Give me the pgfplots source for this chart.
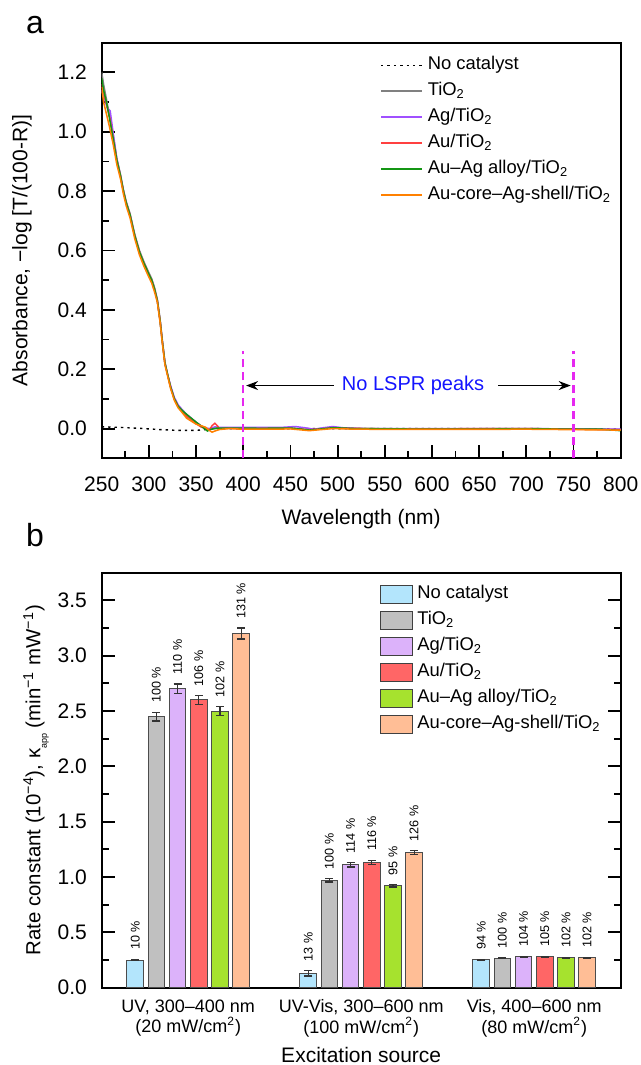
\documentclass[border=0pt]{standalone}
\usepackage{fontspec}
\setmainfont{Liberation Sans}
\usepackage{pgfplots}
\usepackage{pgfplotstable}
\pgfplotsset{compat=1.18}
\usetikzlibrary{arrows.meta}

\definecolor{cNoCat}{RGB}{179,229,252}
\definecolor{cTiO}{RGB}{192,192,192}
\definecolor{cAg}{RGB}{220,178,250}
\definecolor{cAu}{RGB}{255,102,102}
\definecolor{cAlloy}{RGB}{166,226,46}
\definecolor{cCore}{RGB}{255,190,150}
\definecolor{lTiO}{RGB}{128,128,128}
\definecolor{lAg}{RGB}{160,80,255}
\definecolor{lAu}{RGB}{255,64,64}
\definecolor{lAlloy}{RGB}{20,150,20}
\definecolor{lCore}{RGB}{255,128,0}
\definecolor{cMag}{RGB}{230,40,240}
\definecolor{cBlue}{RGB}{20,20,255}

\newcommand\tfont{\fontsize{9.2}{11}\selectfont}
\newcommand\kfont{\fontsize{10.5}{12.5}\selectfont}

\pgfplotstableread{
x y e p
0 0.250 0.005 10
1 0.130 0.025 13
2 0.252 0.003 94
}\tNoCat
\pgfplotstableread{
x y e p
0 2.450 0.040 100
1 0.970 0.015 100
2 0.268 0.003 100
}\tTiO
\pgfplotstableread{
x y e p
0 2.700 0.045 110
1 1.110 0.020 114
2 0.281 0.003 104
}\tAg
\pgfplotstableread{
x y e p
0 2.600 0.040 106
1 1.130 0.020 116
2 0.281 0.003 105
}\tAu
\pgfplotstableread{
x y e p
0 2.500 0.040 102
1 0.920 0.010 95
2 0.271 0.003 102
}\tAlloy
\pgfplotstableread{
x y e p
0 3.200 0.050 131
1 1.220 0.018 126
2 0.271 0.003 102
}\tCore

\pgfplotsset{
  bleg/.style={legend image code/.code={\draw[##1, draw=black!75, line width=0.5pt] (0pt,-4.5pt) rectangle (16pt,4.5pt);}},
  lleg/.style={legend image code/.code={\draw[##1] (0pt,0pt) -- (20.5pt,0pt);}},
}

\begin{document}
\begin{tikzpicture}
\useasboundingbox (-50.85pt,-38.65pt) rectangle (269.65pt,493.85pt);

\node[font=\fontsize{16}{18}\selectfont] at (-33.35pt,481.5pt) {a};
\node[font=\fontsize{16}{18}\selectfont] at (-33.35pt,226.35pt) {b};

% ---- panel a: absorbance spectra
\begin{axis}[
  at={(0pt,264.7pt)}, anchor=south west,
  scale only axis, width=259.5pt, height=207.8pt,
  xmin=250, xmax=800, ymin=-0.1, ymax=1.3,
  xtick={250,300,350,400,450,500,550,600,650,700,750,800},
  minor x tick num=1,
  ytick={0,0.2,0.4,0.6,0.8,1.0,1.2},
  minor y tick num=1,
  tick pos=left, tick align=inside,
  major tick length=6.5pt, minor tick length=3.5pt,
  axis line style={line width=0.9pt},
  tick style={line width=0.9pt, black},
  /pgf/number format/assume math mode=true,
  ticklabel style={font=\kfont},
  xticklabel style={yshift=-5.6pt},
  yticklabel style={xshift=-3.9pt, /pgf/number format/.cd, fixed, fixed zerofill, precision=1},
  xlabel={Wavelength (nm)},
  ylabel={Absorbance, −log [T/(100-R)]},
  label style={font=\kfont},
  xlabel style={at={(axis description cs:0.5,-0.147)}, anchor=center},
  ylabel style={at={(axis description cs:-0.1536,0.5)}, anchor=center},
  legend style={at={(axis description cs:0.536,0.978)}, anchor=north west,
    draw=none, fill=none, inner sep=0pt, font=\tfont,
    nodes={inner ysep=2pt, inner xsep=2.5pt, text height=6.8pt, text depth=2.2pt}},
  legend cell align=left,
]
\addplot[lleg, black, line width=0.7pt, dash pattern=on 1.2pt off 2pt] coordinates {
 (250,0.006) (270,0.004) (290,0.001) (310,-0.003) (330,-0.006) (350,-0.006)
 (360,-0.003) (375,0.0) (400,0.0) (500,0.0) (600,0.0) (700,0.0) (800,-0.002)};
\addlegendentry{No catalyst}
\addplot[lleg, lTiO, line width=0.75pt] coordinates {
 (250,1.20) (252,1.16) (255,1.11) (258,1.06) (262,0.99) (266,0.91) (270,0.855)
 (273,0.805) (276,0.765) (280,0.725) (285,0.655) (290,0.60) (295,0.56) (300,0.525)
 (303,0.505) (306,0.475) (309,0.435) (312,0.365) (314,0.305) (317,0.225) (320,0.18)
 (323,0.14) (327,0.10) (331,0.075) (335,0.06) (340,0.042) (345,0.03) (350,0.018)
 (355,0.008) (360,0.001) (363,-0.004) (366,-0.002) (370,0.0) (380,0.002) (400,0.001)
 (430,0.001) (450,0.002) (470,-0.004) (495,0.002) (520,0.0) (600,-0.001) (700,0.0)
 (800,-0.003)};
\addlegendentry{TiO\textsubscript{2}}
\addplot[lleg, lAg, line width=0.75pt] coordinates {
 (250,1.14) (253,1.11) (256,1.08) (259,1.07) (262,1.00) (266,0.91) (270,0.85)
 (273,0.80) (276,0.76) (280,0.72) (285,0.65) (290,0.595) (295,0.555) (300,0.52)
 (303,0.50) (306,0.47) (309,0.43) (312,0.36) (314,0.30) (317,0.22) (320,0.18)
 (323,0.145) (327,0.105) (331,0.08) (335,0.065) (340,0.048) (345,0.035) (350,0.022)
 (355,0.01) (360,0.002) (365,0.0) (370,0.006) (375,0.004) (390,0.004) (420,0.004)
 (440,0.004) (455,0.007) (465,0.003) (475,-0.002) (485,0.003) (495,0.007) (505,0.003)
 (530,0.0) (600,0.0) (700,0.0) (800,-0.002)};
\addlegendentry{Ag/TiO\textsubscript{2}}
\addplot[lleg, lAu, line width=0.75pt] coordinates {
 (250,1.16) (253,1.12) (256,1.08) (259,1.04) (262,0.98) (266,0.905) (270,0.85)
 (273,0.80) (276,0.76) (280,0.72) (285,0.65) (290,0.595) (295,0.555) (300,0.52)
 (303,0.50) (306,0.47) (309,0.43) (312,0.36) (314,0.30) (317,0.22) (320,0.18)
 (323,0.14) (327,0.10) (331,0.075) (335,0.06) (340,0.042) (345,0.03) (350,0.017)
 (355,0.006) (360,0.0) (364,-0.005) (367,0.01) (370,0.018) (373,0.008) (375,-0.002)
 (380,0.001) (400,0.0) (450,0.001) (470,-0.004) (495,0.002) (550,-0.001) (700,0.0)
 (800,-0.004)};
\addlegendentry{Au/TiO\textsubscript{2}}
\addplot[lleg, lAlloy, line width=0.75pt] coordinates {
 (250,1.18) (252,1.14) (255,1.10) (258,1.05) (262,0.98) (266,0.905) (270,0.85)
 (273,0.80) (276,0.76) (280,0.72) (285,0.65) (290,0.595) (295,0.555) (300,0.52)
 (303,0.50) (306,0.47) (309,0.43) (312,0.36) (314,0.30) (317,0.22) (320,0.18)
 (323,0.14) (327,0.10) (331,0.075) (335,0.062) (340,0.048) (345,0.035) (350,0.022)
 (355,0.01) (360,-0.003) (362,-0.008) (366,-0.002) (372,0.002) (390,0.002) (420,0.001)
 (450,0.002) (470,-0.005) (480,-0.002) (495,0.003) (520,0.0) (600,-0.002) (700,-0.001)
 (780,-0.002) (800,-0.007)};
\addlegendentry{Au–Ag alloy/TiO\textsubscript{2}}
\addplot[lleg, lCore, line width=0.75pt] coordinates {
 (250,1.15) (252,1.10) (255,1.06) (258,1.02) (262,0.96) (266,0.89) (270,0.84)
 (273,0.79) (276,0.75) (280,0.71) (285,0.64) (290,0.585) (295,0.545) (300,0.51)
 (303,0.49) (306,0.46) (309,0.425) (312,0.355) (314,0.295) (317,0.215) (320,0.175)
 (323,0.135) (327,0.095) (331,0.07) (335,0.055) (340,0.035) (345,0.025) (350,0.015)
 (355,0.01) (360,0.005) (364,-0.006) (367,-0.012) (370,-0.008) (375,-0.003) (385,0.0)
 (400,-0.002) (430,-0.002) (450,-0.001) (470,-0.007) (480,-0.004) (495,0.0) (520,-0.002)
 (600,-0.003) (700,-0.002) (800,-0.005)};
\addlegendentry{Au-core–Ag-shell/TiO\textsubscript{2}}
\addplot[forget plot, cMag, line width=1.1pt, dash pattern=on 4pt off 2.5pt] coordinates {(400,-0.1) (400,0.26)};
\addplot[forget plot, cMag, line width=1.1pt, dash pattern=on 4pt off 2.5pt] coordinates {(750,-0.1) (750,0.26)};
\draw[-{Stealth[length=6pt,width=4.5pt]}, line width=0.7pt] (axis cs:496,0.145) -- (axis cs:403,0.145);
\draw[-{Stealth[length=6pt,width=4.5pt]}, line width=0.7pt] (axis cs:670,0.145) -- (axis cs:747,0.145);
\node[font=\fontsize{10}{12}\selectfont, text=cBlue] at (axis cs:580,0.145) {No LSPR peaks};
\end{axis}

% ---- panel b: rate constants
\begin{axis}[
  at={(0pt,0pt)}, anchor=south west,
  scale only axis, width=259.5pt, height=207.5pt,
  xmin=-0.5, xmax=2.5, ymin=0, ymax=3.75,
  ybar, bar width=0.096,
  xtick={0,1,2},
  xticklabels={{UV, 300–400 nm\\(20 mW/cm\textsuperscript{2})},
               {UV-Vis, 300–600 nm\\(100 mW/cm\textsuperscript{2})},
               {Vis, 400–600 nm\\(80 mW/cm\textsuperscript{2})}},
  ytick={0,0.5,1,1.5,2,2.5,3,3.5},
  minor y tick num=1,
  xtick pos=left, ytick pos=both, tick align=inside,
  major tick length=6.5pt, minor tick length=3.5pt,
  axis line style={line width=0.9pt},
  tick style={line width=0.9pt, black},
  xtick style={draw=none},
  /pgf/number format/assume math mode=true,
  ticklabel style={font=\kfont},
  xticklabel style={align=center, yshift=-2.5pt, font=\fontsize{9}{9}\selectfont},
  yticklabel style={xshift=-3.9pt, /pgf/number format/.cd, fixed, fixed zerofill, precision=1},
  xlabel={Excitation source},
  ylabel={Rate constant (10\textsuperscript{−4}), κ\raisebox{-0.6ex}{\fontsize{4.5}{5}\selectfont app} (min\textsuperscript{−1} mW\textsuperscript{−1})},
  xlabel style={font=\kfont, inner sep=0pt, at={(axis description cs:0.5,-0.163)}, anchor=center},
  ylabel style={font=\fontsize{10.2}{12}\selectfont, at={(axis description cs:-0.1266,0.5)}, anchor=center},
  legend style={at={(axis description cs:0.536,0.98)}, anchor=north west,
    draw=none, fill=none, inner sep=0pt, font=\tfont,
    nodes={inner ysep=2pt, inner xsep=2pt, text height=6.8pt, text depth=2.2pt}},
  legend cell align=left,
  point meta=explicit symbolic,
  nodes near coords={\pgfplotspointmeta~\%},
  visualization depends on={\thisrow{e} \as \err},
  nodes near coords style={yshift={\err*55.33pt}, rotate=90, anchor=west,
    inner xsep=4.5pt, inner ysep=0pt, font=\fontsize{6.3}{7}\selectfont, text=black},
  error bars/y dir=both, error bars/y explicit,
  error bars/error bar style={line width=0.6pt, black!80},
  error bars/error mark options={rotate=90, mark size=2pt, line width=0.6pt, black!80},
]
\addplot[bleg, bar shift=-0.306, fill=cNoCat, draw=black!70, line width=0.5pt]
  table[x=x, y=y, y error=e, meta=p] {\tNoCat};
\addlegendentry{No catalyst}
\addplot[bleg, bar shift=-0.184, fill=cTiO, draw=black!70, line width=0.5pt]
  table[x=x, y=y, y error=e, meta=p] {\tTiO};
\addlegendentry{TiO\textsubscript{2}}
\addplot[bleg, bar shift=-0.061, fill=cAg, draw=black!70, line width=0.5pt]
  table[x=x, y=y, y error=e, meta=p] {\tAg};
\addlegendentry{Ag/TiO\textsubscript{2}}
\addplot[bleg, bar shift=0.061, fill=cAu, draw=black!70, line width=0.5pt]
  table[x=x, y=y, y error=e, meta=p] {\tAu};
\addlegendentry{Au/TiO\textsubscript{2}}
\addplot[bleg, bar shift=0.184, fill=cAlloy, draw=black!70, line width=0.5pt]
  table[x=x, y=y, y error=e, meta=p] {\tAlloy};
\addlegendentry{Au–Ag alloy/TiO\textsubscript{2}}
\addplot[bleg, bar shift=0.306, fill=cCore, draw=black!70, line width=0.5pt]
  table[x=x, y=y, y error=e, meta=p] {\tCore};
\addlegendentry{Au-core–Ag-shell/TiO\textsubscript{2}}
\end{axis}
\end{tikzpicture}
\end{document}
